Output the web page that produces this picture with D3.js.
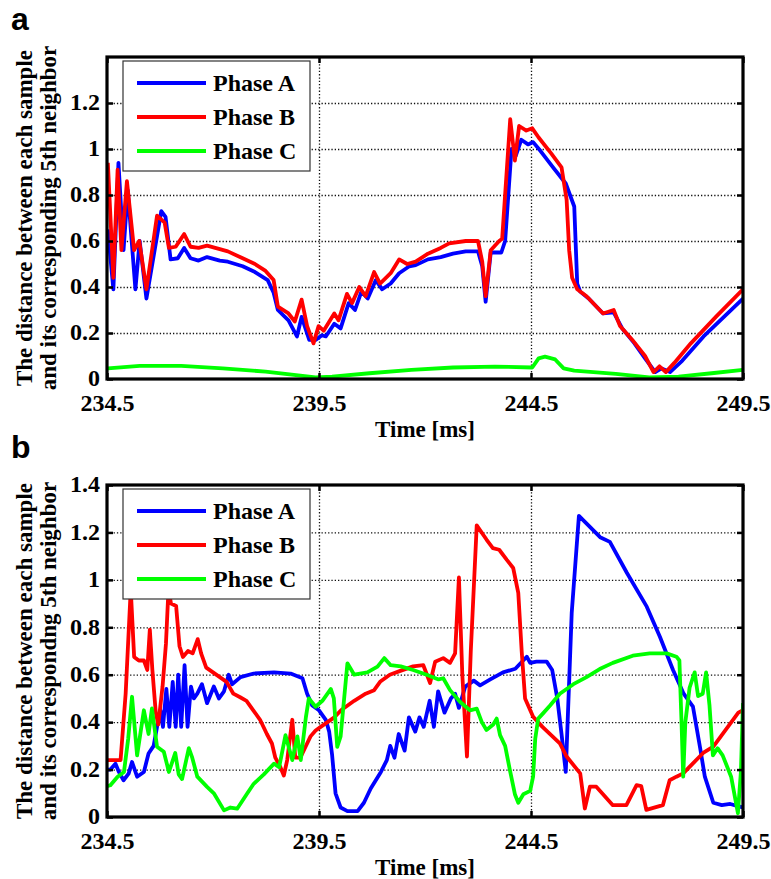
<!DOCTYPE html>
<html>
<head>
<meta charset="utf-8">
<script src="https://cdn.jsdelivr.net/npm/d3@7"></script>
<style>
body { margin: 0; background: #fff; }
svg { display: block; font-family: "Liberation Serif", "Times New Roman", serif; font-weight: bold; }
</style>
</head>
<body>
<div class="canvas"></div>
<script>
// tick values and labels
const timeTicks = [234.5, 239.5, 244.5, 249.5];
const yTicksA = [0, 0.2, 0.4, 0.6, 0.8, 1, 1.2];
const yTicksB = [0, 0.2, 0.4, 0.6, 0.8, 1, 1.2, 1.4];
const phaseNames = ['Phase A', 'Phase B', 'Phase C'];
const yLabelA = ['The distance between each sample', 'and its corresponding 5th neighbor'];
const yLabelB = ['The distance between each sample', 'and its correspondng 5th neighbor'];

// panel a, [time ms, distance]
const aPhaseA = [[234.52,0.65],[234.65,0.39],[234.77,0.94],[234.89,0.56],[234.99,0.82],[235.17,0.39],[235.27,0.60],[235.43,0.35],
  [235.78,0.73],[235.88,0.705],[236.00,0.52],[236.17,0.525],[236.32,0.57],[236.47,0.525],[236.66,0.515],[236.86,0.53],[237.16,0.515],
  [237.35,0.51],[237.70,0.49],[237.99,0.465],[238.29,0.43],[238.43,0.375],[238.53,0.30],[238.78,0.255],[238.98,0.185],[239.09,0.27],
  [239.27,0.17],[239.42,0.17],[239.57,0.19],[239.66,0.185],[239.86,0.24],[240.01,0.22],[240.20,0.33],[240.35,0.30],[240.50,0.38],
  [240.65,0.35],[240.84,0.43],[240.99,0.39],[241.19,0.415],[241.39,0.46],[241.63,0.49],[241.78,0.495],[242.07,0.52],[242.37,0.53],
  [242.66,0.545],[242.96,0.555],[243.25,0.555],[243.35,0.49],[243.43,0.336],[243.55,0.55],[243.80,0.55],[243.89,0.60],[244.04,1.00],
  [244.14,0.97],[244.27,1.04],[244.43,1.02],[244.55,1.03],[244.73,0.99],[245.02,0.92],[245.32,0.85],[245.52,0.75],[245.59,0.415],
  [245.66,0.38],[245.86,0.35],[246.20,0.285],[246.45,0.29],[246.65,0.22],[246.94,0.155],[247.19,0.09],[247.43,0.03],[247.58,0.046],
  [247.78,0.03],[248.07,0.08],[248.57,0.185],[249.50,0.35]];
const aPhaseB = [[234.52,0.94],[234.65,0.44],[234.75,0.91],[234.84,0.56],[234.97,0.86],[235.14,0.56],[235.26,0.60],[235.43,0.39],
  [235.68,0.71],[235.86,0.68],[235.96,0.57],[236.12,0.575],[236.32,0.63],[236.47,0.575],[236.66,0.57],[236.86,0.58],[237.16,0.565],
  [237.35,0.555],[237.70,0.525],[237.99,0.50],[238.24,0.47],[238.43,0.43],[238.53,0.315],[238.78,0.285],[238.93,0.25],[239.09,0.345],
  [239.22,0.23],[239.37,0.155],[239.49,0.23],[239.61,0.21],[239.86,0.285],[239.96,0.255],[240.16,0.37],[240.28,0.33],[240.45,0.40],
  [240.60,0.36],[240.80,0.465],[240.94,0.415],[241.19,0.46],[241.39,0.52],[241.58,0.50],[241.78,0.51],[242.07,0.545],[242.37,0.57],
  [242.57,0.59],[242.96,0.60],[243.25,0.60],[243.35,0.51],[243.43,0.36],[243.55,0.56],[243.75,0.60],[243.82,0.61],[244.01,1.13],
  [244.12,0.95],[244.22,1.10],[244.39,1.08],[244.53,1.09],[244.68,1.05],[244.98,0.98],[245.22,0.92],[245.34,0.78],[245.40,0.56],
  [245.47,0.44],[245.59,0.39],[245.81,0.36],[246.20,0.285],[246.45,0.30],[246.60,0.23],[246.89,0.17],[247.19,0.10],[247.39,0.03],
  [247.53,0.055],[247.68,0.03],[247.88,0.07],[248.27,0.155],[248.86,0.27],[249.50,0.39]];
const aPhaseC = [[234.52,0.046],[235.27,0.057],[236.25,0.057],[237.23,0.046],[238.24,0.032],[239.42,0.007],[239.81,0.01],
  [240.69,0.025],[241.68,0.04],[242.66,0.05],[243.65,0.054],[244.53,0.05],[244.68,0.09],[244.83,0.097],[245.07,0.085],[245.27,0.046],
  [245.52,0.036],[246.50,0.022],[247.29,0.007],[247.98,0.01],[248.76,0.025],[249.50,0.04]];

// panel b, [time ms, distance]
const bPhaseA = [[234.50,0.20],[234.58,0.20],[234.70,0.225],[234.78,0.19],[234.89,0.155],[235.01,0.183],[235.09,0.232],[235.21,0.17],
  [235.37,0.19],[235.48,0.268],[235.60,0.30],[235.68,0.38],[235.76,0.45],[235.82,0.38],[235.90,0.54],[235.97,0.38],[236.05,0.57],
  [236.12,0.38],[236.18,0.60],[236.25,0.38],[236.33,0.64],[236.40,0.38],[236.48,0.55],[236.55,0.50],[236.63,0.52],[236.74,0.56],
  [236.86,0.48],[237.02,0.55],[237.14,0.50],[237.26,0.53],[237.37,0.60],[237.45,0.56],[237.65,0.59],[237.96,0.605],[238.44,0.61],
  [238.83,0.605],[239.11,0.585],[239.22,0.52],[239.34,0.47],[239.50,0.45],[239.66,0.41],[239.74,0.36],[239.81,0.26],[239.89,0.10],
  [240.01,0.04],[240.17,0.025],[240.41,0.025],[240.56,0.06],[240.72,0.12],[240.96,0.19],[241.10,0.24],[241.18,0.30],[241.28,0.25],
  [241.38,0.35],[241.52,0.28],[241.62,0.42],[241.77,0.36],[241.87,0.42],[241.97,0.38],[242.11,0.49],[242.21,0.38],[242.31,0.53],
  [242.46,0.44],[242.61,0.50],[242.71,0.52],[242.80,0.46],[242.95,0.55],[243.15,0.575],[243.30,0.555],[243.54,0.58],[243.84,0.61],
  [244.13,0.625],[244.40,0.676],[244.48,0.65],[244.63,0.655],[244.87,0.655],[245.00,0.62],[245.12,0.50],[245.22,0.35],[245.32,0.19],
  [245.46,0.86],[245.63,1.27],[246.13,1.18],[246.36,1.16],[246.76,1.03],[247.23,0.887],[247.54,0.76],[247.85,0.62],[248.10,0.52],
  [248.32,0.465],[248.49,0.29],[248.60,0.17],[248.80,0.06],[249.00,0.05],[249.20,0.055],[249.40,0.045],[249.50,0.04]];
const bPhaseB = [[234.50,0.24],[234.82,0.24],[234.94,0.52],[235.06,0.96],[235.14,0.675],[235.25,0.66],[235.37,0.66],[235.45,0.62],
  [235.51,0.79],[235.57,0.62],[235.65,0.44],[235.71,0.39],[235.81,0.55],[235.89,0.73],[235.95,0.96],[236.01,0.90],[236.13,0.89],
  [236.21,0.72],[236.29,0.675],[236.41,0.70],[236.52,0.69],[236.64,0.75],[236.72,0.69],[236.84,0.63],[237.00,0.61],[237.16,0.59],
  [237.32,0.57],[237.48,0.52],[237.64,0.505],[237.79,0.49],[237.95,0.45],[238.11,0.41],[238.27,0.35],[238.39,0.31],[238.47,0.25],
  [238.59,0.21],[238.67,0.175],[238.75,0.24],[238.87,0.41],[238.94,0.25],[239.06,0.25],[239.18,0.295],[239.30,0.34],[239.42,0.365],
  [239.54,0.38],[239.70,0.40],[239.86,0.42],[240.02,0.45],[240.33,0.49],[240.60,0.52],[240.80,0.535],[240.94,0.57],[241.17,0.60],
  [241.40,0.615],[241.72,0.635],[241.96,0.64],[242.12,0.565],[242.24,0.655],[242.43,0.67],[242.59,0.65],[242.71,0.69],[242.80,1.01],
  [242.88,0.60],[242.99,0.255],[243.08,0.70],[243.22,1.23],[243.45,1.17],[243.60,1.134],[243.75,1.127],[243.93,1.084],[244.08,1.05],
  [244.20,0.945],[244.28,0.70],[244.36,0.50],[244.55,0.423],[244.77,0.38],[245.18,0.31],[245.34,0.255],[245.66,0.184],[245.77,0.036],
  [245.89,0.128],[246.04,0.128],[246.43,0.05],[246.75,0.05],[246.99,0.134],[247.10,0.13],[247.22,0.03],[247.61,0.05],[247.77,0.155],
  [247.93,0.17],[248.09,0.184],[248.32,0.226],[248.56,0.27],[248.80,0.297],[249.03,0.353],[249.39,0.44],[249.50,0.45]];
const bPhaseC = [[234.50,0.13],[234.58,0.134],[234.75,0.17],[234.90,0.19],[235.00,0.33],[235.09,0.507],[235.21,0.26],[235.37,0.45],
  [235.48,0.35],[235.56,0.458],[235.68,0.296],[235.84,0.275],[235.96,0.19],[236.11,0.27],[236.19,0.18],[236.27,0.16],[236.43,0.29],
  [236.51,0.25],[236.63,0.17],[236.86,0.127],[237.02,0.10],[237.26,0.028],[237.41,0.04],[237.57,0.035],[237.81,0.10],[237.96,0.14],
  [238.20,0.18],[238.44,0.225],[238.56,0.21],[238.71,0.345],[238.87,0.24],[238.99,0.34],[239.07,0.24],[239.19,0.42],[239.26,0.50],
  [239.42,0.465],[239.58,0.49],[239.78,0.54],[239.85,0.50],[239.93,0.296],[240.01,0.34],[240.17,0.648],[240.33,0.60],[240.64,0.61],
  [240.88,0.634],[241.04,0.67],[241.19,0.64],[241.43,0.635],[241.72,0.62],[242.04,0.60],[242.32,0.58],[242.43,0.585],[242.59,0.535],
  [242.83,0.485],[243.06,0.45],[243.22,0.457],[243.34,0.40],[243.45,0.367],[243.61,0.39],[243.69,0.415],[243.77,0.345],[243.89,0.30],
  [244.00,0.20],[244.12,0.096],[244.20,0.06],[244.32,0.096],[244.48,0.11],[244.55,0.17],[244.60,0.33],[244.67,0.415],[244.80,0.44],
  [244.95,0.47],[245.18,0.52],[245.50,0.56],[245.81,0.59],[246.12,0.624],[246.43,0.65],[246.90,0.68],[247.30,0.69],[247.70,0.69],
  [247.93,0.676],[248.00,0.66],[248.05,0.40],[248.09,0.17],[248.14,0.40],[248.24,0.545],[248.36,0.61],[248.44,0.51],[248.55,0.52],
  [248.63,0.61],[248.71,0.47],[248.79,0.26],[248.90,0.29],[249.02,0.26],[249.22,0.17],[249.38,0.016],[249.45,0.19],[249.50,0.48]];

const colors = ['#0000ff', '#ff0000', '#00ff00'];

// svg container
const svg = d3.select('.canvas')
    .append('svg')
    .attr('width', 771)
    .attr('height', 879);

const margin = { left: 107, right: 28 };
const graphWidth = 771 - margin.left - margin.right;

const fmt = d => String(+d.toFixed(1));
const serif = '"Liberation Serif", "Times New Roman", serif';

function drawPanel(p) {
    const h = p.bottom - p.top;
    const graph = svg.append('g')
        .attr('transform', `translate(${margin.left},${p.top})`);

    const x = d3.scaleLinear().domain([234.5, 249.5]).range([0, graphWidth]);
    const y = d3.scaleLinear().domain([0, 1.4]).range([h, 0]);

    // dotted grid
    const gy = graph.append('g')
        .call(d3.axisLeft(y).tickValues(p.yTicks.filter(v => v > 0 && v < 1.4)).tickSize(-graphWidth).tickFormat(''));
    const gx = graph.append('g')
        .attr('transform', `translate(0,${h})`)
        .call(d3.axisBottom(x).tickValues(timeTicks.slice(1, -1)).tickSize(-h).tickFormat(''));
    [gy, gx].forEach(g => {
        g.select('.domain').remove();
        g.selectAll('line').attr('stroke', '#111').attr('stroke-width', 1.3).attr('stroke-dasharray', '1.3,2');
    });

    // clip the lines to the plot box
    graph.append('clipPath').attr('id', 'clip-' + p.id)
        .append('rect').attr('width', graphWidth).attr('height', h);

    const line = d3.line().x(d => x(d[0])).y(d => y(d[1]));
    p.series.forEach((s, i) => {
        graph.append('path')
            .datum(s)
            .attr('d', line)
            .attr('fill', 'none')
            .attr('stroke', colors[i])
            .attr('stroke-width', 3.8)
            .attr('stroke-linejoin', 'round')
            .attr('clip-path', `url(#clip-${p.id})`);
    });

    // axes, ticks pointing inward
    const left = graph.append('g')
        .call(d3.axisLeft(y).tickValues(p.yTicks).tickSize(-6).tickSizeOuter(0).tickPadding(7).tickFormat(fmt));
    const right = graph.append('g')
        .attr('transform', `translate(${graphWidth},0)`)
        .call(d3.axisRight(y).tickValues(p.yTicks).tickSize(-6).tickSizeOuter(0).tickFormat(''));
    const bottom = graph.append('g')
        .attr('transform', `translate(0,${h})`)
        .call(d3.axisBottom(x).tickValues(timeTicks).tickSize(-6).tickSizeOuter(0).tickPadding(15).tickFormat(d3.format('.1f')));
    const top = graph.append('g')
        .call(d3.axisTop(x).tickValues(timeTicks).tickSize(-6).tickSizeOuter(0).tickFormat(''));
    [left, right, bottom, top].forEach(g => {
        g.select('.domain').remove();
        g.selectAll('line').attr('stroke', '#000').attr('stroke-width', 2.5);
        g.selectAll('text')
            .attr('fill', '#000')
            .style('font-family', serif)
            .style('font-weight', 'bold')
            .style('font-size', '24px');
    });
    left.selectAll('text').attr('dy', '0.28em');

    // frame
    graph.append('rect')
        .attr('width', graphWidth)
        .attr('height', h)
        .attr('fill', 'none')
        .attr('stroke', '#000')
        .attr('stroke-width', 3.2);

    // legend
    const legend = graph.append('g').attr('transform', 'translate(16,4)');
    legend.append('rect')
        .attr('width', 187)
        .attr('height', 110)
        .attr('fill', '#fff')
        .attr('stroke', '#333')
        .attr('stroke-width', 1.2);
    phaseNames.forEach((name, i) => {
        const ly = 22 + i * 34;
        legend.append('line')
            .attr('x1', 14).attr('x2', 83)
            .attr('y1', ly).attr('y2', ly)
            .attr('stroke', colors[i])
            .attr('stroke-width', 3.8);
        legend.append('text')
            .attr('x', 90)
            .attr('y', ly + 8)
            .style('font-family', serif)
            .attr('font-size', 24)
            .text(name);
    });

    // axis titles
    graph.append('text')
        .attr('x', graphWidth / 2)
        .attr('y', h + 58)
        .attr('text-anchor', 'middle')
        .style('font-family', serif)
        .attr('font-size', 23)
        .text('Time [ms]');

    p.yLabel.forEach((t, i) => {
        svg.append('text')
            .attr('transform', `translate(${32 + i * 24},${p.top + h / 2}) rotate(-90)`)
            .attr('text-anchor', 'middle')
            .style('font-family', serif)
            .attr('font-size', 23)
            .text(t);
    });

    // panel letter
    svg.append('text')
        .attr('x', 11)
        .attr('y', p.top - 27)
        .style('font-family', '"Liberation Sans", Arial, sans-serif')
        .style('font-weight', 'bold')
        .attr('font-size', 32)
        .text(p.id);
}

drawPanel({ id: 'a', top: 57, bottom: 379, yTicks: yTicksA, yLabel: yLabelA, series: [aPhaseA, aPhaseB, aPhaseC] });
drawPanel({ id: 'b', top: 485, bottom: 817, yTicks: yTicksB, yLabel: yLabelB, series: [bPhaseA, bPhaseB, bPhaseC] });
</script>
</body>
</html>
